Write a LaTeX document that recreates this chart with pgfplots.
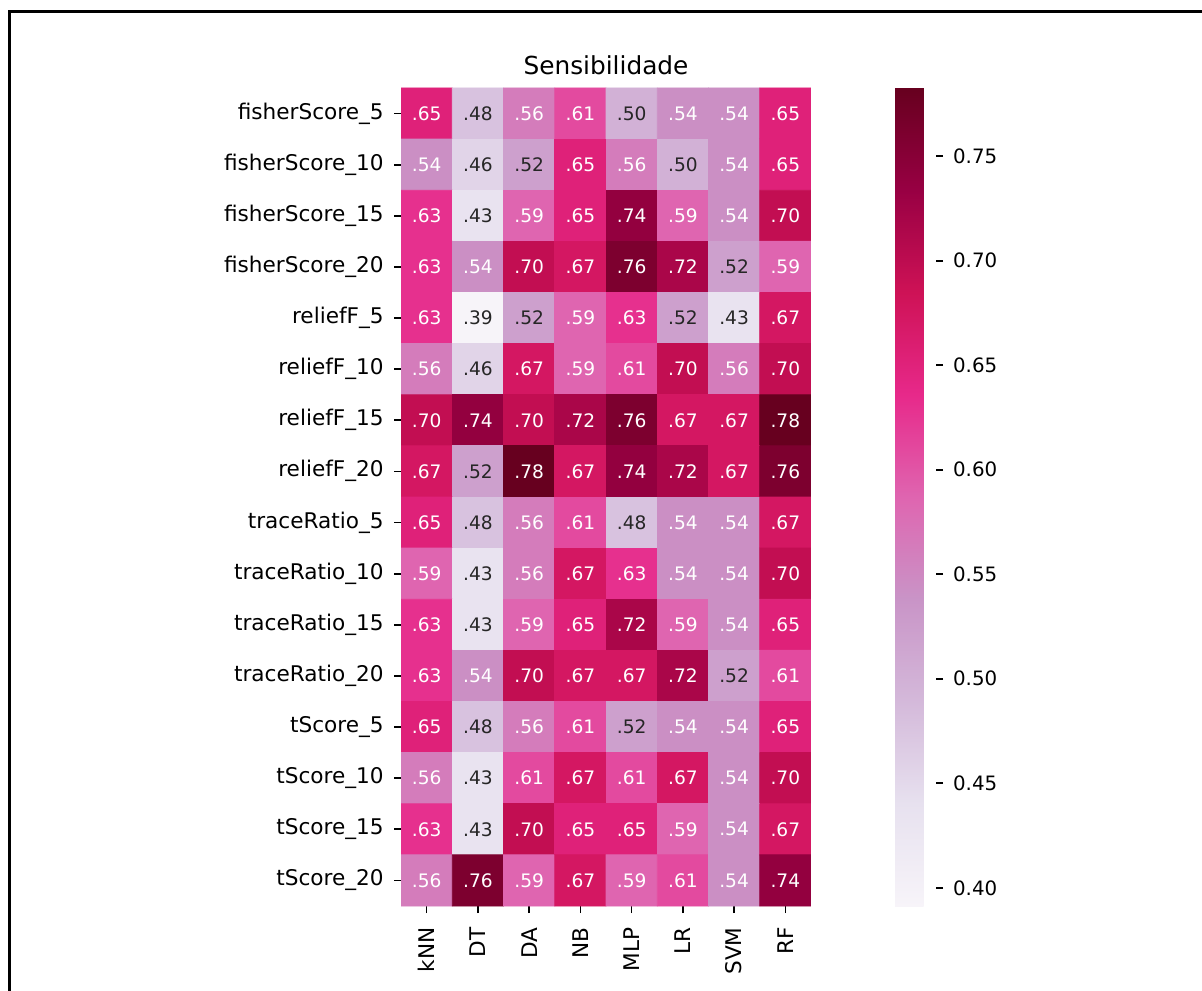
\documentclass[border=0pt]{standalone}
\usepackage{fontspec}
\setmainfont{DejaVu Sans}
\usepackage{pgfplots}
\pgfplotsset{compat=1.18}
\usepackage{pgfplotstable}
\pgfplotsset{/pgf/number format/assume math mode=true}
\definecolor{darktxt}{RGB}{38,38,38}

% columns: x = classifier index, y = feature-set index, v = sensitivity
\pgfplotstableread{
x y v
0 0 0.6522
1 0 0.4783
2 0 0.5630
3 0 0.6087
4 0 0.5000
5 0 0.5435
6 0 0.5435
7 0 0.6522
0 1 0.5435
1 1 0.4565
2 1 0.5217
3 1 0.6522
4 1 0.5630
5 1 0.5000
6 1 0.5435
7 1 0.6522
0 2 0.6304
1 2 0.4348
2 2 0.5870
3 2 0.6522
4 2 0.7391
5 2 0.5870
6 2 0.5435
7 2 0.6957
0 3 0.6304
1 3 0.5435
2 3 0.6957
3 3 0.6739
4 3 0.7609
5 3 0.7174
6 3 0.5217
7 3 0.5870
0 4 0.6304
1 4 0.3913
2 4 0.5217
3 4 0.5870
4 4 0.6304
5 4 0.5217
6 4 0.4348
7 4 0.6739
0 5 0.5630
1 5 0.4565
2 5 0.6739
3 5 0.5870
4 5 0.6087
5 5 0.6957
6 5 0.5630
7 5 0.6957
0 6 0.6957
1 6 0.7391
2 6 0.6957
3 6 0.7174
4 6 0.7609
5 6 0.6739
6 6 0.6739
7 6 0.7826
0 7 0.6739
1 7 0.5217
2 7 0.7826
3 7 0.6739
4 7 0.7391
5 7 0.7174
6 7 0.6739
7 7 0.7609
0 8 0.6522
1 8 0.4783
2 8 0.5630
3 8 0.6087
4 8 0.4783
5 8 0.5435
6 8 0.5435
7 8 0.6739
0 9 0.5870
1 9 0.4348
2 9 0.5630
3 9 0.6739
4 9 0.6304
5 9 0.5435
6 9 0.5435
7 9 0.6957
0 10 0.6304
1 10 0.4348
2 10 0.5870
3 10 0.6522
4 10 0.7174
5 10 0.5870
6 10 0.5435
7 10 0.6522
0 11 0.6304
1 11 0.5435
2 11 0.6957
3 11 0.6739
4 11 0.6739
5 11 0.7174
6 11 0.5217
7 11 0.6087
0 12 0.6522
1 12 0.4783
2 12 0.5630
3 12 0.6087
4 12 0.5217
5 12 0.5435
6 12 0.5435
7 12 0.6522
0 13 0.5630
1 13 0.4348
2 13 0.6087
3 13 0.6739
4 13 0.6087
5 13 0.6739
6 13 0.5435
7 13 0.6957
0 14 0.6304
1 14 0.4348
2 14 0.6957
3 14 0.6522
4 14 0.6522
5 14 0.5870
6 14 0.5435
7 14 0.6739
0 15 0.5630
1 15 0.7609
2 15 0.5870
3 15 0.6739
4 15 0.5870
5 15 0.6087
6 15 0.5435
7 15 0.7391
}\sens

\begin{document}
\begin{tikzpicture}
\path[use as bounding box] (0,0) rectangle (601pt,495pt);
\draw[line width=1.5pt] (4.5pt,-2pt) -- (4.5pt,489pt) -- (603pt,489pt);
\begin{axis}[
  at={(200.5pt,42pt)}, anchor=south west,
  width=205pt, height=409pt, scale only axis,
  xmin=-0.5, xmax=7.5, ymin=-0.5, ymax=15.5, y dir=reverse,
  xtick={0,...,7}, ytick={0,...,15},
  xticklabels={kNN,DT,DA,NB,MLP,LR,SVM,RF},
  yticklabels={fisherScore\_5,fisherScore\_10,fisherScore\_15,fisherScore\_20,reliefF\_5,reliefF\_10,reliefF\_15,reliefF\_20,traceRatio\_5,traceRatio\_10,traceRatio\_15,traceRatio\_20,tScore\_5,tScore\_10,tScore\_15,tScore\_20},
  axis line style={draw=none},
  tick align=outside, xtick pos=bottom, ytick pos=left,
  major tick length=3.5pt,
  tick style={black, line width=0.85pt},
  yticklabel style={font=\fontsize{10.8}{13}\selectfont, anchor=mid east, inner sep=0pt, xshift=-5pt},
  xticklabel style={font=\fontsize{10.8}{13}\selectfont, rotate=90, anchor=east, inner sep=0pt, xshift=-7pt},
  every axis title/.style={at={(0.5,1)}, anchor=base, yshift=6.5pt, font=\fontsize{12.4}{15}\selectfont},
  title={Sensibilidade},
  colormap={purd}{rgb255=(247,244,249) rgb255=(231,225,239) rgb255=(212,185,218) rgb255=(201,148,199) rgb255=(223,101,176) rgb255=(231,41,138) rgb255=(206,18,86) rgb255=(152,0,67) rgb255=(103,0,31)},
  point meta min=0.3913, point meta max=0.7826,
  colorbar,
  colorbar style={
    at={(parent axis.north east)}, anchor=north west, xshift=33.5pt,
    scale only axis, width=20.5pt, height=409pt,
    ytick={0.40,0.45,0.50,0.55,0.60,0.65,0.70,0.75},
    yticklabel={\pgfmathprintnumber[fixed,fixed zerofill,precision=2]{\tick}},
    yticklabel style={font=\fontsize{9.9}{12}\selectfont, xshift=1.5pt},
    ytick pos=right, yticklabel pos=right, tick align=outside, major tick length=3.5pt,
    tick style={black, line width=0.85pt},
    axis line style={draw=none},
  },
]
\addplot[matrix plot*, mesh/cols=8, point meta=explicit] table[x=x, y=y, meta=v] {\sens};
\addplot[only marks, mark=none, point meta=explicit,
  restrict expr to domain={\thisrow{v}}{0.53:1},
  nodes near coords={\pgfmathprintnumber[fixed,fixed zerofill,precision=2,skip 0.]{\pgfplotspointmeta}},
  every node near coord/.append style={anchor=center, text=white, font=\fontsize{9.3}{11}\selectfont}]
  table[x=x, y=y, meta=v] {\sens};
\addplot[only marks, mark=none, point meta=explicit,
  restrict expr to domain={\thisrow{v}}{0:0.53},
  nodes near coords={\pgfmathprintnumber[fixed,fixed zerofill,precision=2,skip 0.]{\pgfplotspointmeta}},
  every node near coord/.append style={anchor=center, text=darktxt, font=\fontsize{9.3}{11}\selectfont}]
  table[x=x, y=y, meta=v] {\sens};
\end{axis}
\end{tikzpicture}
\end{document}
